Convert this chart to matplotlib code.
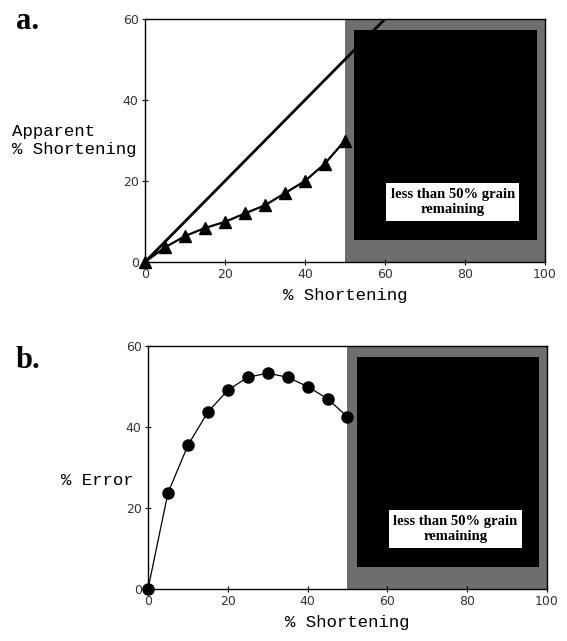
import matplotlib
matplotlib.use('Agg')
import matplotlib.pyplot as plt
from matplotlib.patches import Rectangle

# panel a: apparent shortening vs true shortening
short_a = [0, 5, 10, 15, 20, 25, 30, 35, 40, 45, 50]
apparent = [0, 3.6, 6.4, 8.4, 9.9, 12.0, 14.0, 17.0, 20.0, 24.3, 30.0]
ideal_x = [0, 60]
ideal_y = [0, 60]

# panel b: percent error
short_b = [0, 5, 10, 15, 20, 25, 30, 35, 40, 45, 50]
error = [0, 23.7, 35.5, 43.7, 49.1, 52.3, 53.3, 52.3, 50.0, 47.0, 42.5]

ticks = [0, 20, 40, 60, 80, 100]
yticks = [0, 20, 40, 60]
box_text = "less than 50% grain\nremaining"

fig = plt.figure(figsize=(5.67, 6.41), dpi=100)
ax_a = fig.add_axes([0.2557, 0.5913, 0.7053, 0.379])
ax_b = fig.add_axes([0.2610, 0.0811, 0.7037, 0.379])

label_font = 'Liberation Mono'


def style_axes(ax):
	ax.set_xlim(0, 100)
	ax.set_ylim(0, 60)
	ax.set_xticks(ticks)
	ax.set_yticks(yticks)
	ax.tick_params(direction='inout', length=5, width=0.8, labelsize=9,
				   labelcolor='#333333', pad=2)
	for sp in ax.spines.values():
		sp.set_linewidth(1.0)
	# shaded region beyond 50% shortening
	ax.add_patch(Rectangle((50, 0), 50, 60, facecolor='#6e6e6e',
						   edgecolor='none', zorder=1))
	ax.add_patch(Rectangle((52.3, 5.5), 45.7, 51.8, facecolor='black',
						   edgecolor='none', zorder=1.1))
	ax.text(77, 14.8, box_text, ha='center', va='center', fontsize=10.5,
			fontweight='bold', family='Liberation Serif', linespacing=1.25,
			zorder=5,
			bbox=dict(boxstyle='square,pad=0.3', facecolor='white',
					  edgecolor='none'))
	ax.set_xlabel('% Shortening', family=label_font, fontsize=12.5, labelpad=5)


style_axes(ax_a)
ax_a.plot(ideal_x, ideal_y, color='black', lw=2.0, zorder=3, clip_on=True)
ax_a.plot(short_a, apparent, color='black', lw=1.6, marker='^',
		  markersize=8, zorder=2, clip_on=False)

style_axes(ax_b)
ax_b.plot(short_b, error, color='black', lw=0.9, marker='o',
		  markersize=8, zorder=2, clip_on=False)

fig.text(0.022, 0.781, 'Apparent\n% Shortening', family=label_font,
		 fontsize=12.5, ha='left', va='center', linespacing=1.3)
fig.text(0.108, 0.251, '% Error', family=label_font, fontsize=12.5,
		 ha='left', va='center')

fig.text(0.028, 0.966, 'a.', family='Liberation Serif', fontweight='bold',
		 fontsize=22, ha='left', va='center')
fig.text(0.028, 0.438, 'b.', family='Liberation Serif', fontweight='bold',
		 fontsize=22, ha='left', va='center')

fig.savefig('out.png', dpi=100)
